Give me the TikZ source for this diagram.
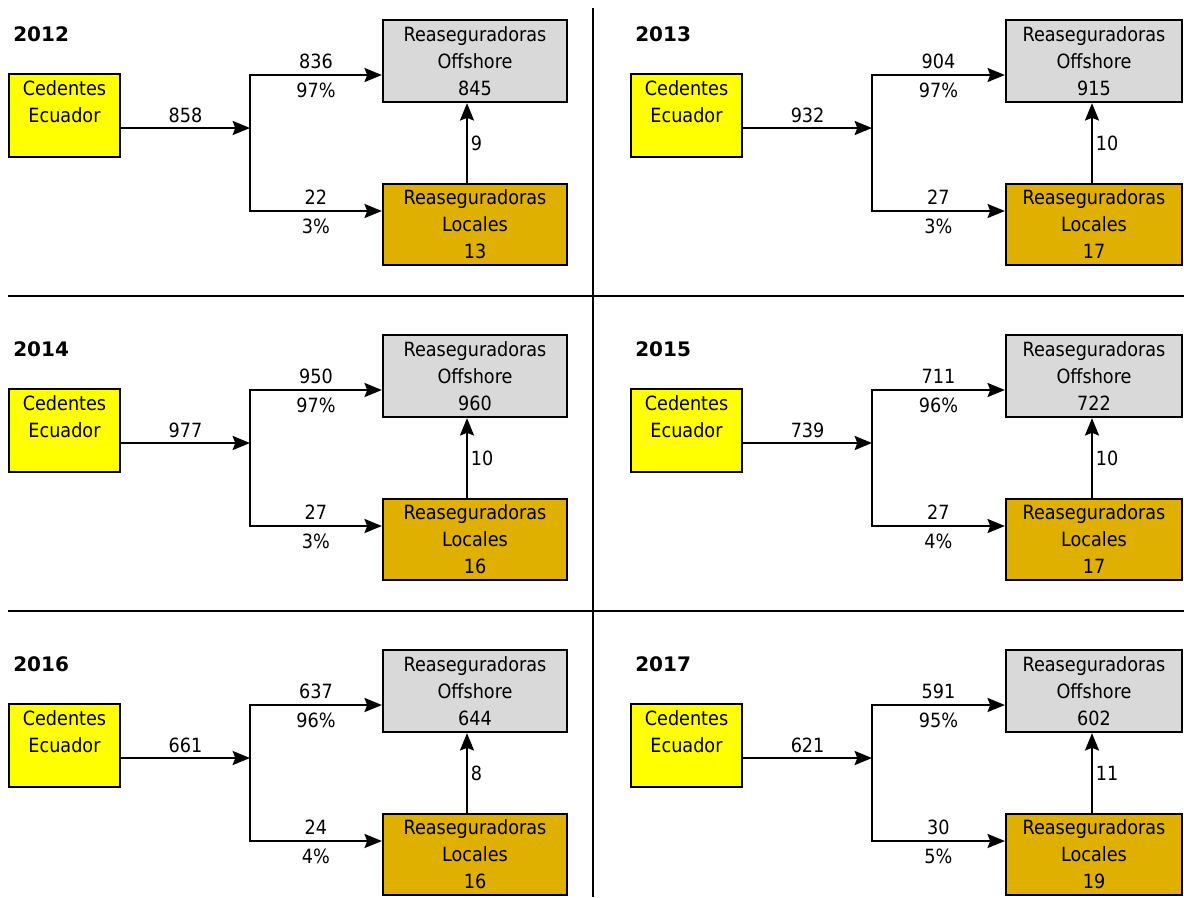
\documentclass[tikz,border=0pt]{standalone}
\usepackage{fontspec}
\setmainfont{DejaVu Sans Condensed}
\newfontfamily\titlefont{DejaVu Sans}
\usetikzlibrary{arrows.meta}
\definecolor{cedyel}{HTML}{FFFF00}
\definecolor{offgray}{HTML}{D9D9D9}
\definecolor{locgold}{HTML}{DFB000}
\begin{document}
\begin{tikzpicture}[x=0.75pt,y=-0.75pt,
  txt/.style={font=\fontsize{14.7pt}{20.25pt}\selectfont},
  box/.style={draw=black, line width=1.7pt, inner sep=0pt, align=center, txt},
  cedbox/.style={box, fill=cedyel, minimum width=83.25pt, minimum height=62.25pt},
  offbox/.style={box, fill=offgray, minimum height=61.5pt},
  locbox/.style={box, fill=locgold, minimum height=60.75pt},
  flow/.style={draw=black, line width=1.7pt, -{Stealth[length=13pt,width=10.5pt,inset=2pt]}},
  plain/.style={draw=black, line width=1.7pt},
  lab/.style={txt, inner sep=2.5pt},
  yeartitle/.style={font=\titlefont\bfseries\fontsize{15pt}{18pt}\selectfont, inner sep=0pt, anchor=west},
]
\useasboundingbox (0,0) rectangle (1184,897);
% separators
\coordinate (vtop) at (593,8);
\coordinate (vbot) at (593,897);
\coordinate (hal) at (8,296);
\coordinate (har) at (1184,296);
\coordinate (hbl) at (8,611);
\coordinate (hbr) at (1184,611);
\draw[plain] (vtop) -- (vbot);
\draw[plain] (hal) -- (har);
\draw[plain] (hbl) -- (hbr);
\foreach \yr/\dx/\dy/\tot/\up/\upp/\dn/\dnp/\ofs/\lcl/\crs/\bw/\bc/\vx in {
2012/0/0/858/836/97/22/3/845/13/9/184/475/467,
2013/622/0/932/904/97/27/3/915/17/10/176/472/470,
2014/0/315/977/950/97/27/3/960/16/10/184/475/467,
2015/622/315/739/711/96/27/4/722/17/10/176/472/470,
2016/0/630/661/637/96/24/4/644/16/8/184/475/467,
2017/622/630/621/591/95/30/5/602/19/11/176/472/470}
{
\begin{scope}[shift={(\dx,\dy)}]
 \node[yeartitle] (title\yr) at (13,34) {\yr};
 \node[cedbox] (ced\yr) at (64.5,115.5) {Cedentes\\Ecuador\\\mbox{}};
 \node[offbox, minimum width=\bw*0.75pt] (off\yr) at (\bc,61) {Reaseguradoras\\Offshore\\\ofs};
 \node[locbox, minimum width=\bw*0.75pt] (loc\yr) at (\bc,224.5) {Reaseguradoras\\Locales\\\lcl};
 \coordinate (j\yr) at (250,128);
 \coordinate (jt\yr) at (250,75);
 \coordinate (jb\yr) at (250,211);
 \coordinate (v\yr) at (\vx,143);
 \draw[flow] (ced\yr.east |- j\yr) -- node[lab, above=0.75pt] (lt\yr) {\tot} (j\yr);
 \draw[flow] (jb\yr) -- (jt\yr) -- node[lab, above=1.5pt] (lu\yr) {\up} node[lab, below=2.5pt] (lup\yr) {\upp\%} (off\yr.west |- jt\yr);
 \draw[flow] (jt\yr) -- (jb\yr) -- node[lab, above=1.5pt] (ld\yr) {\dn} node[lab, below=2.5pt] (ldp\yr) {\dnp\%} (loc\yr.west |- jb\yr);
 \draw[flow] (loc\yr.north -| v\yr) -- node[lab, right, inner sep=2pt] (lc\yr) {\crs} (off\yr.south -| v\yr);
\end{scope}
}
\end{tikzpicture}
\end{document}
